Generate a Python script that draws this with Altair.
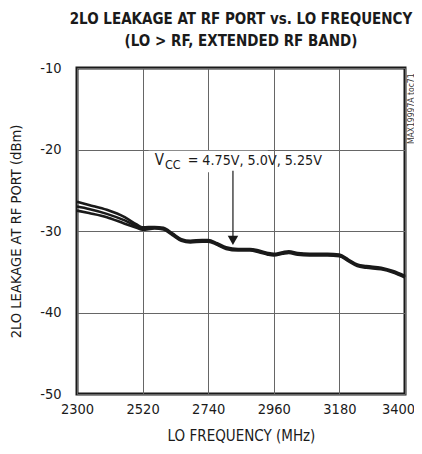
import altair as alt
import pandas as pd

FONT = "DejaVu Sans Condensed, sans-serif"

freq = [2300, 2340, 2400, 2460, 2500, 2520, 2560, 2590, 2620, 2650, 2680, 2720,
        2740, 2770, 2800, 2840, 2880, 2910, 2940, 2960, 2990, 3010, 3040, 3080,
        3140, 3180, 3210, 3240, 3270, 3320, 3360, 3400]

v475 = [-26.4, -26.8, -27.4, -28.3, -29.2, -29.55, -29.5, -29.6, -30.3, -31.0, -31.2, -31.1,
        -31.1, -31.5, -32.0, -32.2, -32.2, -32.4, -32.7, -32.8, -32.6, -32.5, -32.7, -32.8,
        -32.8, -32.9, -33.5, -34.1, -34.3, -34.5, -34.9, -35.5]
v500 = [-27.0, -27.3, -27.9, -28.7, -29.4, -29.7, -29.6, -29.7, -30.4, -31.1, -31.3, -31.2,
        -31.2, -31.6, -32.1, -32.3, -32.3, -32.5, -32.8, -32.9, -32.7, -32.6, -32.8, -32.9,
        -32.9, -33.0, -33.6, -34.2, -34.4, -34.6, -35.0, -35.6]
v525 = [-27.5, -27.8, -28.3, -29.1, -29.6, -29.85, -29.7, -29.8, -30.5, -31.2, -31.4, -31.3,
        -31.3, -31.7, -32.2, -32.4, -32.4, -32.6, -32.9, -33.0, -32.8, -32.7, -32.9, -33.0,
        -33.0, -33.1, -33.7, -34.3, -34.5, -34.7, -35.1, -35.7]

x_ticks = [2300, 2520, 2740, 2960, 3180, 3400]
y_ticks = [-50, -40, -30, -20, -10]

rows = []
for name, vals in [("4.75V", v475), ("5.0V", v500), ("5.25V", v525)]:
    for f, v in zip(freq, vals):
        rows.append({"freq": f, "leak": v, "vcc": name})
df = pd.DataFrame(rows)

xs = alt.Scale(domain=[2300, 3400], nice=False, zero=False)
ys = alt.Scale(domain=[-50, -10], nice=False, zero=False)

base_x = alt.X("freq:Q", scale=xs,
               axis=alt.Axis(values=x_ticks, title="LO FREQUENCY (MHz)",
                             labelExpr="'' + datum.value", labelFlush=False,
                             labelOffset={"condition": {"test": "datum.value == 3400", "value": -7},
                                          "value": 0},
                             labelPadding=8, titlePadding=13))
base_y = alt.Y("leak:Q", scale=ys,
               axis=alt.Axis(values=y_ticks, title="2LO LEAKAGE AT RF PORT (dBm)",
                             labelExpr="'' + datum.value", labelFlush=False,
                             labelPadding=16, titlePadding=16))

lines = alt.Chart(df).mark_line(color="#1a1a1a", strokeWidth=2.6, interpolate="monotone").encode(
    x=base_x, y=base_y, detail="vcc:N")

# annotation
box_df = pd.DataFrame({"x": [2540], "x2": [2940], "y": [-20.15], "y2": [-22.8]})
box = alt.Chart(box_df).mark_rect(color="white").encode(
    x=alt.X("x:Q", scale=xs), x2="x2", y=alt.Y("y:Q", scale=ys), y2="y2")

arrow_df = pd.DataFrame({"x": [2823], "y": [-22.6], "y2": [-31.0]})
arrow = alt.Chart(arrow_df).mark_rule(color="#1a1a1a", strokeWidth=1.2).encode(
    x=alt.X("x:Q", scale=xs), y=alt.Y("y:Q", scale=ys), y2="y2")
head_df = pd.DataFrame({"x": [2823], "y": [-31.15]})
head = alt.Chart(head_df).mark_point(shape="triangle-down", filled=True, size=110,
                                     color="#1a1a1a", opacity=1).encode(
    x=alt.X("x:Q", scale=xs), y=alt.Y("y:Q", scale=ys))

t1_df = pd.DataFrame({"x": [2561], "y": [-21.9], "t": ["V"]})
t2_df = pd.DataFrame({"x": [2595], "y": [-22.4], "t": ["CC"]})
t3_df = pd.DataFrame({"x": [2671], "y": [-21.9], "t": ["= 4.75V, 5.0V, 5.25V"]})
t1 = alt.Chart(t1_df).mark_text(font=FONT, fontSize=15, align="left", baseline="alphabetic",
                                color="#1a1a1a").encode(
    x=alt.X("x:Q", scale=xs), y=alt.Y("y:Q", scale=ys), text="t:N")
t2 = alt.Chart(t2_df).mark_text(font=FONT, fontSize=12.5, align="left", baseline="alphabetic",
                                color="#1a1a1a").encode(
    x=alt.X("x:Q", scale=xs), y=alt.Y("y:Q", scale=ys), text="t:N")
t3 = alt.Chart(t3_df).mark_text(font=FONT, fontSize=14.2, align="left", baseline="alphabetic",
                                color="#1a1a1a").encode(
    x=alt.X("x:Q", scale=xs), y=alt.Y("y:Q", scale=ys), text="t:N")

side_df = pd.DataFrame({"x": [3400], "y": [-15], "t": ["MAX19997A toc71"]})
side = alt.Chart(side_df).mark_text(font=FONT, fontSize=8.5, angle=270, align="center",
                                    baseline="middle", dy=5.5, color="#333").encode(
    x=alt.X("x:Q", scale=xs), y=alt.Y("y:Q", scale=ys), text="t:N")

chart = alt.layer(lines, box, arrow, head, t1, t2, t3, side).properties(
    width=328, height=326,
    autosize=alt.AutoSizeParams(type="none"),
    padding={"left": 69, "top": 60, "right": 9, "bottom": 52},
    title=alt.TitleParams(
        text=["2LO LEAKAGE AT RF PORT vs. LO FREQUENCY", "(LO > RF, EXTENDED RF BAND)"],
        font=FONT, fontSize=15, fontWeight="bold", color="#1a1a1a",
        lineHeight=22, offset=11, anchor="middle"),
).configure_view(
    stroke="#1a1a1a", strokeWidth=3
).configure_axis(
    grid=True, gridColor="#666", gridWidth=1, gridOpacity=1,
    domain=False, ticks=False,
    labelFont=FONT, labelFontSize=14.5, labelColor="#1a1a1a",
    titleFont=FONT, titleFontSize=14.6, titleFontWeight="normal", titleColor="#1a1a1a",
).configure_axisX(titleFontSize=15)

chart.save("out.html", embed_options={"renderer": "svg", "actions": False})
